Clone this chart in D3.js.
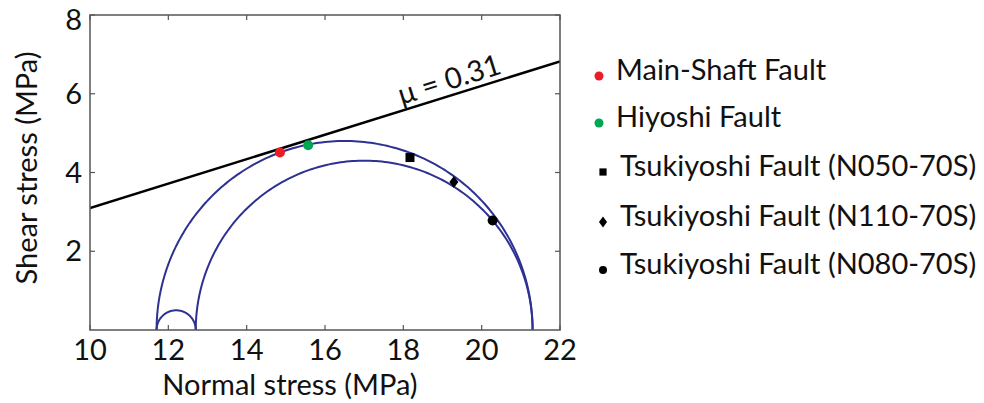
<!DOCTYPE html>
<html>
<head>
<meta charset="utf-8">
<script src="https://cdn.jsdelivr.net/npm/d3@7/dist/d3.min.js"></script>
<style>
  html, body { margin: 0; padding: 0; background: #fff; }
  svg text { font-family: Lato, "Open Sans", sans-serif; fill: #111; }
</style>
</head>
<body>
<svg id="chart" width="984" height="403"></svg>
<script>
// Fault stress states on the Mohr diagram
const faultNames = [
  "Main-Shaft Fault",
  "Hiyoshi Fault",
  "Tsukiyoshi Fault (N050-70S)",
  "Tsukiyoshi Fault (N110-70S)",
  "Tsukiyoshi Fault (N080-70S)"
];
const faultSigma = [14.85, 15.57, 18.17, 19.29, 20.28];
const faultTau   = [4.51, 4.69, 4.38, 3.76, 2.78];

// Mohr circles given by their principal stresses (sigma3, sigma1)
const circleSigma3 = [11.7, 12.7, 11.7];
const circleSigma1 = [21.3, 21.3, 12.7];

// Coulomb friction line through the origin
const frictionMu = 0.31;

const xTicks = [10, 12, 14, 16, 18, 20, 22];
const yTicks = [2, 4, 6, 8];

// presentation
const markerShape = ["circle", "circle", "square", "diamond", "circle"];
const markerColor = ["#ed1c24", "#00a651", "#000", "#000", "#000"];
const circleColor = "#2e3192";
const fontSize = 29;

const svg = d3.select("#chart");
const plot = { left: 90, right: 560, top: 15, bottom: 330 };

const x = d3.scaleLinear().domain([10, 22]).range([plot.left, plot.right]);
const y = d3.scaleLinear().domain([0, 8]).range([plot.bottom, plot.top]);

svg.append("clipPath").attr("id", "plotClip")
  .append("rect")
  .attr("x", plot.left).attr("y", plot.top)
  .attr("width", plot.right - plot.left).attr("height", plot.bottom - plot.top);

const g = svg.append("g").attr("clip-path", "url(#plotClip)");

// Mohr half-circles
const arcPts = d3.range(0, 181).map(d => d * Math.PI / 180);
circleSigma3.forEach((s3, i) => {
  const s1 = circleSigma1[i];
  const c = (s1 + s3) / 2, r = (s1 - s3) / 2;
  const line = d3.line()
    .x(t => x(c - r * Math.cos(t)))
    .y(t => y(r * Math.sin(t)));
  g.append("path").attr("d", line(arcPts))
    .attr("fill", "none").attr("stroke", circleColor).attr("stroke-width", 2);
});

// friction line
g.append("line")
  .attr("x1", x(10)).attr("y1", y(frictionMu * 10))
  .attr("x2", x(22)).attr("y2", y(frictionMu * 22))
  .attr("stroke", "#000").attr("stroke-width", 2.5);

// friction label along the line
const angle = Math.atan2(y(frictionMu * 10) - y(frictionMu * 22), x(22) - x(10)) * 180 / Math.PI;
const lx = x(17.95), ly = y(frictionMu * 17.95) - 6;
svg.append("text")
  .attr("transform", `translate(${lx},${ly}) rotate(${-angle})`)
  .attr("font-size", fontSize)
  .text("\u03bc = 0.31");

// marker drawing helper
function drawMarker(sel, shape, cx, cy, size, color) {
  if (shape === "circle") {
    sel.append("circle").attr("cx", cx).attr("cy", cy).attr("r", size / 2).attr("fill", color);
  } else if (shape === "square") {
    sel.append("rect").attr("x", cx - size * 0.45).attr("y", cy - size * 0.45)
      .attr("width", size * 0.9).attr("height", size * 0.9).attr("fill", color);
  } else {
    const h = size * 0.6, w = size * 0.45;
    sel.append("path")
      .attr("d", `M${cx},${cy - h}L${cx + w},${cy}L${cx},${cy + h}L${cx - w},${cy}Z`)
      .attr("fill", color);
  }
}

faultSigma.forEach((s, i) => {
  drawMarker(svg, markerShape[i], x(s), y(faultTau[i]), 10, markerColor[i]);
});

// frame and inward ticks on all four sides
const frame = svg.append("g");
frame.append("rect")
  .attr("x", plot.left).attr("y", plot.top)
  .attr("width", plot.right - plot.left).attr("height", plot.bottom - plot.top)
  .attr("fill", "none").attr("stroke", "#555").attr("stroke-width", 1.5);

const tickLen = 5;
xTicks.forEach(v => {
  frame.append("line").attr("x1", x(v)).attr("x2", x(v))
    .attr("y1", plot.bottom).attr("y2", plot.bottom - tickLen).attr("stroke", "#555").attr("stroke-width", 1.2);
  frame.append("line").attr("x1", x(v)).attr("x2", x(v))
    .attr("y1", plot.top).attr("y2", plot.top + tickLen).attr("stroke", "#555").attr("stroke-width", 1.2);
  svg.append("text").attr("x", x(v)).attr("y", 360)
    .attr("text-anchor", "middle").attr("font-size", fontSize).text(v);
});
yTicks.forEach(v => {
  frame.append("line").attr("y1", y(v)).attr("y2", y(v))
    .attr("x1", plot.left).attr("x2", plot.left + tickLen).attr("stroke", "#555").attr("stroke-width", 1.2);
  frame.append("line").attr("y1", y(v)).attr("y2", y(v))
    .attr("x1", plot.right).attr("x2", plot.right - tickLen).attr("stroke", "#555").attr("stroke-width", 1.2);
  // keep the topmost label inside the page
  svg.append("text").attr("x", 82).attr("y", Math.max(y(v), 20)).attr("dy", "0.35em")
    .attr("text-anchor", "end").attr("font-size", fontSize).text(v);
});

// axis titles
svg.append("text").attr("x", 290).attr("y", 395)
  .attr("text-anchor", "middle").attr("font-size", fontSize).text("Normal stress (MPa)");
svg.append("text").attr("transform", "translate(37,168) rotate(-90)")
  .attr("text-anchor", "middle").attr("font-size", fontSize).text("Shear stress (MPa)");

// legend
const legendY = [80, 127, 176, 226, 274];
const legendMarkerX = [599, 599, 603, 603, 603];
const legendTextX = [616, 616, 620, 620, 620];
const legendMarkerSize = [9, 9, 8, 9, 8];
faultNames.forEach((name, i) => {
  drawMarker(svg, markerShape[i], legendMarkerX[i], legendY[i] - 4, legendMarkerSize[i], markerColor[i]);
  svg.append("text").attr("x", legendTextX[i]).attr("y", legendY[i])
    .attr("font-size", fontSize).text(name);
});
</script>
</body>
</html>
